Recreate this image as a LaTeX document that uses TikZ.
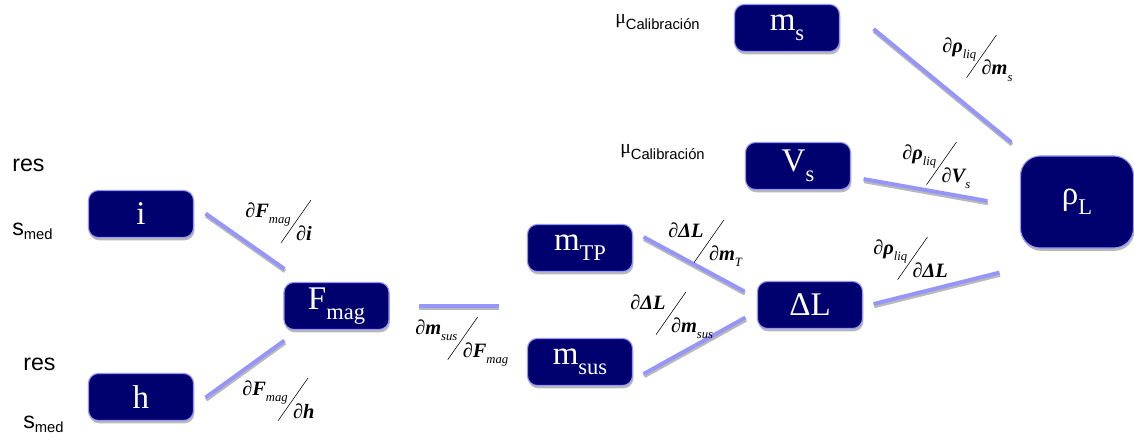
\documentclass[tikz,border=0pt]{standalone}
\usepackage{fontspec}
\setmainfont{Liberation Serif}
\setsansfont{Liberation Sans}
\usetikzlibrary{shadows,calc}
\definecolor{navy}{RGB}{0,0,110}
\definecolor{lblue}{RGB}{150,150,250}
\definecolor{shad}{RGB}{185,185,185}
\newcommand{\nsub}[1]{\raisebox{-0.3em}{\fontsize{16}{16}\selectfont #1}}
\newcommand{\sbt}[1]{\raisebox{-0.3em}{\fontsize{9}{9}\selectfont\mdseries #1}}
\newcommand{\pfrac}[2]{\mbox{\raisebox{16pt}{#1}\kern-7pt\raisebox{-2pt}{\rotatebox{55}{\rule{37pt}{0.4pt}}}\kern-10.7pt#2}}
\tikzset{
  box/.style={draw=lblue, line width=0.8pt, fill=navy, rounded corners=7pt,
    minimum width=2.625cm, minimum height=1.175cm, inner sep=0pt, text=white,
    font=\fontsize{23.5}{23.5}\selectfont,
    drop shadow={shadow xshift=0.6pt, shadow yshift=-2pt, fill=shad, opacity=1}},
  bigbox/.style={box, rounded corners=14pt, minimum width=2.825cm, minimum height=2.3cm},
  conn/.style={lblue, line width=2.8pt,
    preaction={draw=shad, line width=2.8pt, transform canvas={xshift=0.4pt,yshift=-1.6pt}}},
  lab/.style={anchor=base west, inner sep=0pt, font=\fontsize{14.5}{14.5}\selectfont\bfseries\itshape},
  side/.style={anchor=base west, inner sep=0pt, font=\sffamily\fontsize{16.5}{16.5}\selectfont},
  calib/.style={anchor=base west, inner sep=0pt}
}
\begin{document}
\begin{tikzpicture}[x=0.025cm, y=-0.025cm]
\useasboundingbox (0,0) rectangle (1134,440);
% nodes
\node[box] (ms) at (787,28) {m\nsub{s}};
\node[box] (Vs) at (798,166) {V\nsub{s}};
\node[bigbox] (rhoL) at (1077,202) {ρ\nsub{L}};
\node[box] (i) at (141,214) {i};
\node[box] (h) at (141,397) {h};
\node[box] (Fmag) at (336.5,306) {F\nsub{mag}};
\node[box] (mTP) at (580,248) {m\nsub{TP}};
\node[box] (msus) at (580,362) {m\nsub{sus}};
\node[box] (DL) at (810,305) {ΔL};
% connectors
\draw[conn] ($(i.east)+(11.5,-0.5)$) -- ($(Fmag.north west)+(1,-13)$);
\draw[conn] ($(h.east)+(11.5,0.5)$) -- ($(Fmag.south west)+(1,10.5)$);
\draw[conn] ($(Fmag.east)+(29,0)$) -- ($(Fmag.east)+(109,0)$);
\draw[conn] ($(mTP.east)+(10.5,-11)$) -- ($(DL.north west)+(-12.5,10.5)$);
\draw[conn] ($(msus.east)+(10.5,12)$) -- ($(DL.south west)+(-11.5,-11.5)$);
\draw[conn] ($(DL.east)+(10.5,-1)$) -- ($(rhoL.south west)+(-20.5,24)$);
\draw[conn] ($(Vs.east)+(12.5,13)$) -- ($(rhoL.west)+(-32.5,-1)$);
\draw[conn] ($(ms.east)+(33.5,1)$) -- ($(rhoL.north west)+(-8.5,-13)$);
% labels
\node[lab] (l1) at (245,240) {\pfrac{∂F\sbt{mag}}{∂i}};
\node[lab] (l2) at (242,418) {\pfrac{∂F\sbt{mag}}{∂h}};
\node[lab] (l3) at (415,357) {\pfrac{∂m\sbt{sus}}{∂F\sbt{mag}}};
\node[lab] (l4) at (668,260) {\pfrac{∂ΔL}{∂m\sbt{T}}};
\node[lab] (l5) at (630,332) {\pfrac{∂ΔL}{∂m\sbt{sus}}};
\node[lab] (l6) at (873,277) {\pfrac{∂ρ\sbt{liq}}{∂ΔL}};
\node[lab] (l7) at (902,182) {\pfrac{∂ρ\sbt{liq}}{∂V\sbt{s}}};
\node[lab] (l8) at (942,75) {\pfrac{∂ρ\sbt{liq}}{∂m\sbt{s}}};
% side texts
\node[side] (res1) at (12,172) {res};
\node[side] (smed1) at (12,235) {s\raisebox{-3.5pt}{\fontsize{10.5}{10.5}\selectfont med}};
\node[side] (res2) at (23,370) {res};
\node[side] (smed2) at (23,428) {s\raisebox{-3.5pt}{\fontsize{10.5}{10.5}\selectfont med}};
\node[calib] (mu1) at (615,24) {{\fontsize{14}{14}\selectfont μ}\raisebox{-4pt}{\sffamily\fontsize{10.5}{10.5}\selectfont Calibración}};
\node[calib] (mu2) at (620,154) {{\fontsize{14}{14}\selectfont μ}\raisebox{-4pt}{\sffamily\fontsize{10.5}{10.5}\selectfont Calibración}};
\end{tikzpicture}
\end{document}
